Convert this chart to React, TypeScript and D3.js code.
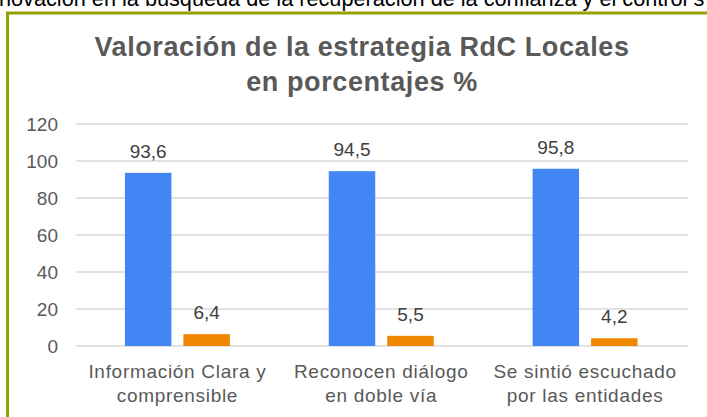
import React, { useRef, useEffect } from "react";
import * as d3 from "d3";

// datos del gráfico
const categories = [
  ["Información Clara y", "comprensible"],
  ["Reconocen diálogo", "en doble vía"],
  ["Se sintió escuchado", "por las entidades"],
];
const series = ["Sí", "No"];
const siValues = [93.6, 94.5, 95.8];
const noValues = [6.4, 5.5, 4.2];
const yTicks = [0, 20, 40, 60, 80, 100, 120];
const colors = ["#4285f4", "#ef8700"];

const width = 707;
const height = 417;

const App = () => {
  const ref = useRef<SVGSVGElement>(null);

  useEffect(() => {
    const svg = d3.select(ref.current);
    svg.selectAll("*").remove();

    const font = "'Liberation Sans', Arial, sans-serif";

    // texto cortado de la página original
    svg
      .append("text")
      .attr("x", -1)
      .attr("y", 6)
      .attr("font-family", font)
      .attr("font-size", 21.7)
      .attr("fill", "#000")
      .text("novación en la búsqueda de la recuperación de la confianza y el control s");

    // marco
    svg
      .append("path")
      .attr("d", `M7.5,${height} L7.5,13 L${width},13`)
      .attr("fill", "none")
      .attr("stroke", "#95a100")
      .attr("stroke-width", 3);

    // título
    const title = svg
      .append("text")
      .attr("text-anchor", "middle")
      .attr("font-family", font)
      .attr("font-weight", "bold")
      .attr("font-size", 27)
      .attr("letter-spacing", 0.6)
      .attr("fill", "#595959");
    title.append("tspan").attr("x", 362).attr("y", 56).text("Valoración de la estrategia RdC Locales");
    title.append("tspan").attr("x", 362).attr("y", 91).text("en porcentajes %");

    const y = d3.scaleLinear().domain([0, 120]).range([346, 124]);
    const x0 = d3
      .scaleBand()
      .domain(categories.map((c) => c.join(" ")))
      .range([75.5, 687]);
    const bw = x0.bandwidth();
    const x1 = d3
      .scaleBand()
      .domain(series)
      .range([bw / 2 - 52.5, bw / 2 + 52.5])
      .paddingInner(0.205);

    // rejilla
    svg
      .append("g")
      .selectAll("line")
      .data(yTicks)
      .enter()
      .append("line")
      .attr("x1", 76)
      .attr("x2", 688)
      .attr("y1", (d) => y(d))
      .attr("y2", (d) => y(d))
      .attr("stroke", "#d9d9d9")
      .attr("stroke-width", 1.5);

    svg
      .append("g")
      .selectAll("text")
      .data(yTicks)
      .enter()
      .append("text")
      .attr("x", 58)
      .attr("y", (d) => y(d) + 7)
      .attr("text-anchor", "end")
      .attr("font-family", font)
      .attr("font-size", 19)
      .attr("fill", "#595959")
      .text((d) => d);

    const fmt = (v: number) => d3.format(".1f")(v).replace(".", ",");
    const data = categories.map((c, i) => ({
      key: c.join(" "),
      lines: c,
      values: [siValues[i], noValues[i]],
    }));

    const groups = svg
      .append("g")
      .selectAll("g")
      .data(data)
      .enter()
      .append("g")
      .attr("transform", (d) => `translate(${x0(d.key)},0)`);

    groups
      .selectAll("rect")
      .data((d) => d.values.map((v, j) => ({ s: series[j], v, j })))
      .enter()
      .append("rect")
      .attr("x", (d) => x1(d.s)!)
      .attr("width", x1.bandwidth())
      .attr("y", (d) => y(d.v))
      .attr("height", (d) => y(0) - y(d.v))
      .attr("fill", (d) => colors[d.j]);

    groups
      .selectAll("text.val")
      .data((d) => d.values.map((v, j) => ({ s: series[j], v })))
      .enter()
      .append("text")
      .attr("class", "val")
      .attr("x", (d) => x1(d.s)! + x1.bandwidth() / 2)
      .attr("y", (d) => y(d.v) - 15)
      .attr("text-anchor", "middle")
      .attr("font-family", font)
      .attr("font-size", 19)
      .attr("fill", "#404040")
      .text((d) => fmt(d.v));

    const labels = groups
      .append("text")
      .attr("text-anchor", "middle")
      .attr("font-family", font)
      .attr("font-size", 19)
      .attr("letter-spacing", 0.7)
      .attr("fill", "#595959");
    labels
      .selectAll("tspan")
      .data((d) => d.lines)
      .enter()
      .append("tspan")
      .attr("x", bw / 2)
      .attr("y", (_, i) => 378 + i * 24)
      .text((d) => d);
  }, []);

  return (
    <svg
      ref={ref}
      width={width}
      height={height}
      style={{ position: "absolute", left: 0, top: 0, background: "#fff", display: "block" }}
    />
  );
};

export default App;
